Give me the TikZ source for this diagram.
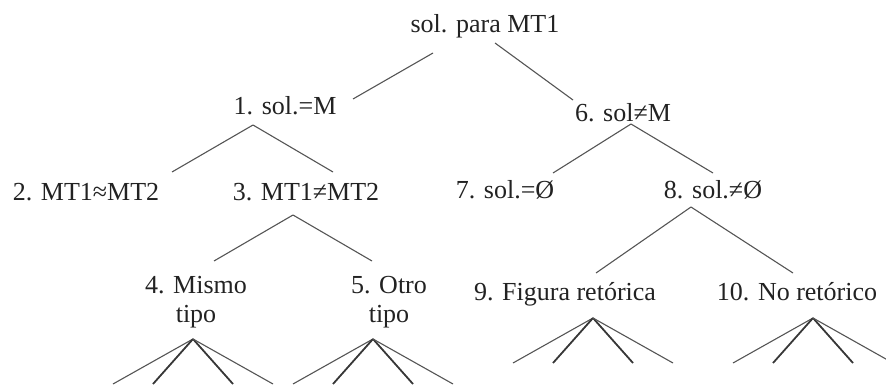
\documentclass[tikz,border=0pt]{standalone}
\usepackage{fontspec}
\setmainfont{Liberation Serif}
\usepackage{xcolor}
\usetikzlibrary{calc}
\definecolor{TreeInk}{HTML}{222222}
\definecolor{TreeLine}{HTML}{555555}
\tikzset{
    % text of the tree
    treetext/.style={
        anchor=base,
        inner sep=0pt,
        align=center,
        text=TreeInk,
        font=\fontsize{26}{29}\selectfont
    },
    % connectors
    branch/.style={
        draw=TreeLine,
        line width=1.1pt
    },
    forkouter/.style={
        draw=TreeLine,
        line width=1.1pt
    },
    forkinner/.style={
        draw=TreeInk!90,
        line width=1.8pt
    }
}
\begin{document}
\begin{tikzpicture}[x=1pt, y=-1pt]
    \useasboundingbox (0,0) rectangle (886,385);

    % Root
    \node[treetext] (root) at (485,33) {sol. para MT1};

    % Level 1
    \node[treetext] (n1) at (285,115) {1. sol.=M};
    \node[treetext] (n6) at (623,122) {6. sol≠M};

    % Level 2
    \node[treetext] (n2) at (86,200) {2. MT1≈MT2};
    \node[treetext] (n3) at (306,200) {3. MT1≠MT2};
    \node[treetext] (n7) at (505,198) {7. sol.=Ø};
    \node[treetext] (n8) at (713,198) {8. sol.≠Ø};

    % Level 3 (base = last line)
    \node[treetext] (n4) at (196,322) {4. Mismo\\tipo};
    \node[treetext] (n5) at (389,322) {5. Otro\\tipo};
    \node[treetext] (n9) at (565,300) {9. Figura retórica};
    \node[treetext] (n10) at (797,300) {10. No retórico};

    % Branches
    \draw[branch] ($(root.base)+(-52,20)$) -- ($(n1.base)+(68,-16)$);
    \draw[branch] ($(root.base)+(10,10)$) -- ($(n6.base)+(-50,-22)$);
    \draw[branch] ($(n1.base)+(-32,10)$) -- ($(n2.base)+(86,-28)$);
    \draw[branch] ($(n1.base)+(-32,10)$) -- ($(n3.base)+(27,-28)$);
    \draw[branch] ($(n6.base)+(8,2)$) -- ($(n7.base)+(48,-25)$);
    \draw[branch] ($(n6.base)+(8,2)$) -- ($(n8.base)+(0,-25)$);
    \draw[branch] ($(n3.base)+(-13,15)$) -- ($(n4.base)+(18,-61)$);
    \draw[branch] ($(n3.base)+(-13,15)$) -- ($(n5.base)+(-17,-61)$);
    \draw[branch] ($(n8.base)+(-22,9)$) -- ($(n9.base)+(31,-27)$);
    \draw[branch] ($(n8.base)+(-22,9)$) -- ($(n10.base)+(-4,-27)$);

    % Open forks under the last level
    \coordinate (f4) at ($(n4.base)+(-3,17)$);
    \coordinate (f5) at ($(n5.base)+(-16,17)$);
    \coordinate (f9) at ($(n9.base)+(28,18)$);
    \coordinate (f10) at ($(n10.base)+(16,18)$);
    \foreach \f in {f4,f5,f9,f10} {
        \draw[forkouter] (\f) -- ++(-80,45);
        \draw[forkinner] (\f) -- ++(-40,45);
        \draw[forkinner] (\f) -- ++(40,45);
        \draw[forkouter] (\f) -- ++(80,45);
    }
\end{tikzpicture}
\end{document}
